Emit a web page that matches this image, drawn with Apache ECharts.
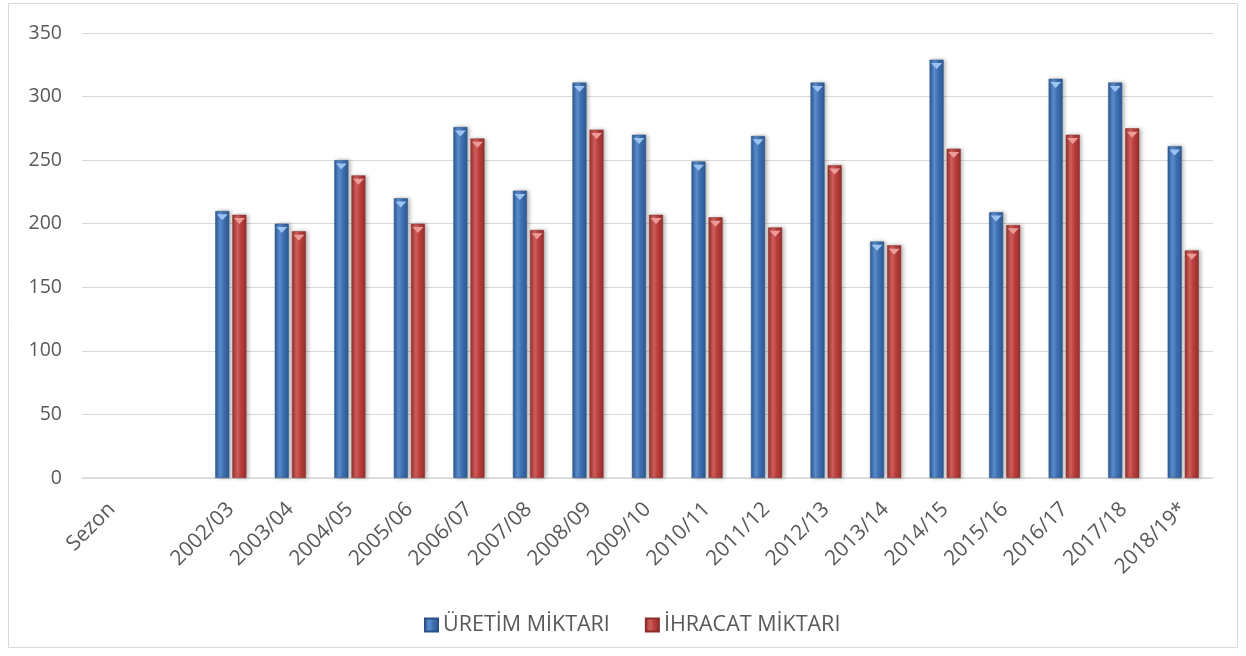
<!DOCTYPE html>
<html>
<head>
<meta charset="utf-8">
<script src="https://cdn.jsdelivr.net/npm/echarts@6/dist/echarts.min.js"></script>
<style>html,body{margin:0;padding:0;background:#fff}#c{width:1246px;height:656px}</style>
</head>
<body>
<div id="c"></div>
<script>
const categories = ['Sezon', '', '2002/03', '2003/04', '2004/05', '2005/06', '2006/07', '2007/08', '2008/09', '2009/10', '2010/11', '2011/12', '2012/13', '2013/14', '2014/15', '2015/16', '2016/17', '2017/18', '2018/19*'];
const uretim = [null, null, 210, 200, 250, 220, 276, 226, 311, 270, 249, 269, 311, 186, 329, 209, 314, 311, 261];
const ihracat = [null, null, 207, 194, 238, 200, 267, 195, 274, 207, 205, 197, 246, 183, 259, 199, 270, 275, 179];
const yTicks = [0, 50, 100, 150, 200, 250, 300, 350];

const font = '"Open Sans", Lato, sans-serif';
function grad(edge, mid, light) {
  return new echarts.graphic.LinearGradient(0, 0, 1, 0, [
    {offset: 0, color: edge}, {offset: 0.35, color: light}, {offset: 0.6, color: mid}, {offset: 1, color: edge}
  ]);
}
const blueFill = grad('#2c5a94', '#3f6fb0', '#5b8ed0');
const redFill = grad('#96302d', '#bb3e3b', '#d0605d');

const chart = echarts.init(document.getElementById('c'));
chart.setOption({
  animation: false,
  graphic: [{type: 'rect', shape: {x: 8.5, y: 3.5, width: 1229, height: 644}, style: {fill: 'none', stroke: '#d9d9d9', lineWidth: 1}}],
  grid: {left: 82, right: 33, top: 33, bottom: 178, containLabel: false},
  legend: {
    data: ['ÜRETİM MİKTARI', 'İHRACAT MİKTARI'],
    top: 609, left: 419, itemGap: 35, itemWidth: 13, itemHeight: 13,
    icon: 'rect',
    textStyle: {fontFamily: font, fontSize: 21.5, color: '#595959'}
  },
  xAxis: {
    type: 'category', data: categories,
    axisLine: {lineStyle: {color: '#d9d9d9', width: 1.5}},
    axisTick: {show: false},
    axisLabel: {rotate: 45, interval: 0, margin: 28, fontFamily: font, fontSize: 21, color: '#595959'}
  },
  yAxis: {
    type: 'value', min: 0, max: 350, interval: 50,
    axisLine: {show: false}, axisTick: {show: false},
    axisLabel: {margin: 20, fontFamily: font, fontSize: 19.5, color: '#595959',
      formatter: v => yTicks.includes(v) ? String(v) : ''},
    splitLine: {lineStyle: {color: '#d9d9d9', width: 1}}
  },
  series: [
    {name: 'ÜRETİM MİKTARI', type: 'bar', data: uretim, barWidth: 14, barGap: '22%',
     itemStyle: {color: blueFill, borderColor: '#2a5286', borderWidth: 0.5, shadowBlur: 4, shadowColor: 'rgba(0,0,0,0.3)', shadowOffsetX: 2}},
    {name: 'İHRACAT MİKTARI', type: 'bar', data: ihracat, barWidth: 14, barGap: '22%',
     itemStyle: {color: redFill, borderColor: '#8a2c2a', borderWidth: 0.5, shadowBlur: 4, shadowColor: 'rgba(0,0,0,0.3)', shadowOffsetX: 2}},
    {name: 'capU', type: 'pictorialBar', data: uretim, barWidth: 14, barGap: '22%', z: 5,
     symbol: 'triangle', symbolRotate: 180, symbolSize: [11, 6], symbolPosition: 'end', symbolOffset: [0, '55%'],
     itemStyle: {color: '#9cc3f0'}},
    {name: 'capI', type: 'pictorialBar', data: ihracat, barWidth: 14, barGap: '22%', z: 5,
     symbol: 'triangle', symbolRotate: 180, symbolSize: [11, 6], symbolPosition: 'end', symbolOffset: [0, '55%'],
     itemStyle: {color: '#eb9c98'}}
  ]
});
</script>
</body>
</html>
